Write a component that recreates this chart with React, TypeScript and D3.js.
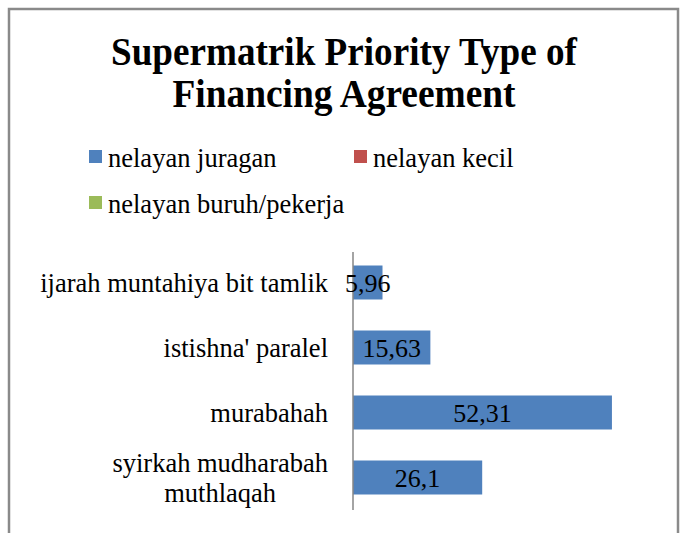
import * as d3 from 'd3';
import { useEffect, useRef } from 'react';

const width = 681;
const height = 533;

const titleLines = ['Supermatrik Priority Type of', 'Financing Agreement'];
const categories = [
  'ijarah muntahiya bit tamlik',
  "istishna' paralel",
  'murabahah',
  'syirkah mudharabah\nmuthlaqah',
];
const seriesNames = ['nelayan juragan', 'nelayan kecil', 'nelayan buruh/pekerja'];
const seriesColors = ['#4F81BD', '#C0504D', '#9BBB59'];
const juraganValues = [5.96, 15.63, 52.31, 26.1];
const valueLabels = ['5,96', '15,63', '52,31', '26,1'];

const font = 'Liberation Serif, DejaVu Serif, serif';

const App = () => {
  const svgRef = useRef<SVGSVGElement>(null);

  useEffect(() => {
    const svg = d3.select(svgRef.current);
    svg.selectAll('*').remove();

    // chart frame
    svg
      .append('rect')
      .attr('x', 9)
      .attr('y', 9)
      .attr('width', 669)
      .attr('height', 600)
      .attr('fill', '#fff')
      .attr('stroke', '#8a8a8a')
      .attr('stroke-width', 2.5);

    // title
    svg
      .append('g')
      .selectAll('text')
      .data(titleLines)
      .join('text')
      .attr('x', 344)
      .attr('y', (d, i) => 65 + i * 42)
      .attr('text-anchor', 'middle')
      .style('font-family', font)
      .style('font-weight', 'bold')
      .style('font-size', '39px')
      .attr('textLength', (d, i) => (i === 0 ? 466 : 343))
      .attr('lengthAdjust', 'spacingAndGlyphs')
      .text((d) => d);

    // legend
    const legendPos = [
      [89, 150],
      [354, 150],
      [89, 196],
    ];
    const legend = svg
      .append('g')
      .selectAll('g')
      .data(seriesNames)
      .join('g')
      .attr('transform', (d, i) => `translate(${legendPos[i][0]},${legendPos[i][1]})`);
    legend
      .append('rect')
      .attr('width', 13)
      .attr('height', 13)
      .attr('fill', (d, i) => seriesColors[i]);
    legend
      .append('text')
      .attr('x', 19)
      .attr('y', 17)
      .style('font-family', font)
      .style('font-size', '26.5px')
      .attr('fill', '#000')
      .text((d) => d);

    // plot area
    const x = d3.scaleLinear().domain([0, 60]).range([353, 650]);
    const y = d3.scaleBand().domain(categories).range([250, 510]).paddingInner(0.477).paddingOuter(0.2385);

    svg
      .append('g')
      .selectAll('rect')
      .data(juraganValues)
      .join('rect')
      .attr('x', x(0))
      .attr('y', (d, i) => y(categories[i]))
      .attr('width', (d) => x(d) - x(0))
      .attr('height', y.bandwidth())
      .attr('fill', seriesColors[0]);

    // vertical category axis
    svg
      .append('line')
      .attr('x1', x(0))
      .attr('x2', x(0))
      .attr('y1', 252)
      .attr('y2', 510)
      .attr('stroke', '#868686')
      .attr('stroke-width', 1.5);

    // value labels
    svg
      .append('g')
      .selectAll('text')
      .data(juraganValues)
      .join('text')
      .attr('x', (d) => (x(0) + x(d)) / 2)
      .attr('y', (d, i) => y(categories[i]) + y.bandwidth() / 2)
      .attr('dy', '0.36em')
      .attr('text-anchor', 'middle')
      .style('font-family', font)
      .style('font-size', '26px')
      .attr('fill', '#000')
      .text((d, i) => valueLabels[i]);

    // category labels
    const labelRight = 328;
    const cats = svg.append('g');
    categories.forEach((c) => {
      const lines = c.split('\n');
      const cy = y(c) + y.bandwidth() / 2;
      const t = cats
        .append('text')
        .style('font-family', font)
        .style('font-size', '26.5px')
        .attr('fill', '#000');
      lines.forEach((ln, j) => {
        t.append('tspan')
          .attr('y', cy + (j - (lines.length - 1) / 2) * 30)
          .attr('dy', '0.35em')
          .text(ln);
      });
      if (lines.length === 1) {
        t.attr('text-anchor', 'end').selectAll('tspan').attr('x', labelRight);
      } else {
        const spans = t.selectAll<SVGTSpanElement, unknown>('tspan');
        let maxW = 0;
        spans.each(function () {
          maxW = Math.max(maxW, this.getComputedTextLength());
        });
        t.attr('text-anchor', 'middle');
        spans.attr('x', labelRight - maxW / 2);
      }
    });
  }, []);

  return (
    <svg
      ref={svgRef}
      width={width}
      height={height}
      style={{ position: 'absolute', left: 0, top: 0, display: 'block' }}
    ></svg>
  );
};

export default App;
